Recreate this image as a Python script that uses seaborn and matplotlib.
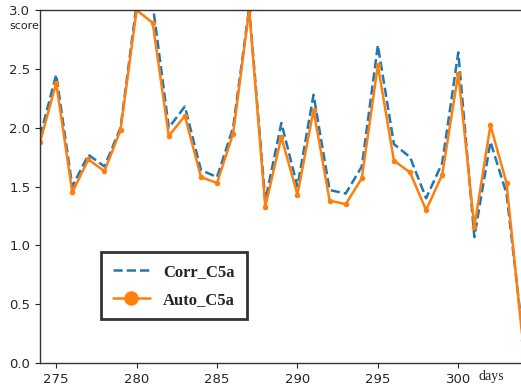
import numpy as np
import pandas as pd
import matplotlib
matplotlib.use("Agg")
import matplotlib.pyplot as plt
import seaborn as sns

days = list(range(274, 305))
corr_c5a = [1.93, 2.45, 1.50, 1.77, 1.67, 2.00, 3.05, 3.05, 2.00, 2.18,
            1.64, 1.58, 2.00, 3.02, 1.38, 2.04, 1.50, 2.28, 1.47, 1.44,
            1.67, 2.70, 1.86, 1.75, 1.40, 1.70, 2.64, 1.07, 1.88, 1.44, 0.25]
auto_c5a = [1.88, 2.38, 1.45, 1.73, 1.63, 1.98, 3.00, 2.89, 1.93, 2.10,
            1.58, 1.53, 1.95, 3.00, 1.33, 1.92, 1.43, 2.15, 1.38, 1.35,
            1.57, 2.53, 1.72, 1.62, 1.30, 1.60, 2.46, 1.16, 2.02, 1.53, 0.20]
x_ticks = [275, 280, 285, 290, 295, 300]
y_ticks = [0.0, 0.5, 1.0, 1.5, 2.0, 2.5, 3.0]

df = pd.DataFrame({"day": days, "Corr_C5a": corr_c5a, "Auto_C5a": auto_c5a})

sns.set_style("ticks")
fig = plt.figure(figsize=(5.21, 3.85), dpi=100)
ax = fig.add_axes([0.077, 0.057, 0.923, 0.917])

sns.lineplot(data=df, x="day", y="Corr_C5a", ax=ax, color="#1f77b4",
             linestyle="--", linewidth=1.8, label="Corr_C5a")
sns.lineplot(data=df, x="day", y="Auto_C5a", ax=ax, color="#ff7f0e",
             marker="o", markersize=4, markeredgewidth=0, linewidth=1.8,
             label="Auto_C5a")

ax.set_xlim(274, 303.9)
ax.set_ylim(0, 3.0)
ax.set_xticks(x_ticks)
ax.set_yticks(y_ticks)
ax.set_xticklabels([str(t) for t in x_ticks])
ax.set_yticklabels([f"{t:.1f}" for t in y_ticks])
ax.tick_params(labelsize=9.5, length=3.5)
ax.set_xlabel("")
ax.set_ylabel("")
ax.spines["right"].set_visible(False)
for s in ["left", "top", "bottom"]:
    ax.spines[s].set_color("#333333")
    ax.spines[s].set_linewidth(1.0)

fig.text(0.018, 0.945, "score", fontsize=8, ha="left", va="top")
fig.text(0.943, 0.005, "days", fontsize=10, family="Liberation Serif",
         ha="center", va="bottom")

leg = ax.legend(loc="lower left", bbox_to_anchor=(0.11, 0.10),
                prop={"family": "Liberation Serif", "weight": "bold", "size": 12},
                markerscale=2.6, fancybox=False, frameon=True,
                handlelength=2.2, borderpad=0.7, labelspacing=0.7)
leg.get_frame().set_edgecolor("black")
leg.get_frame().set_linewidth(2.0)

fig.savefig("out.png", dpi=100)
